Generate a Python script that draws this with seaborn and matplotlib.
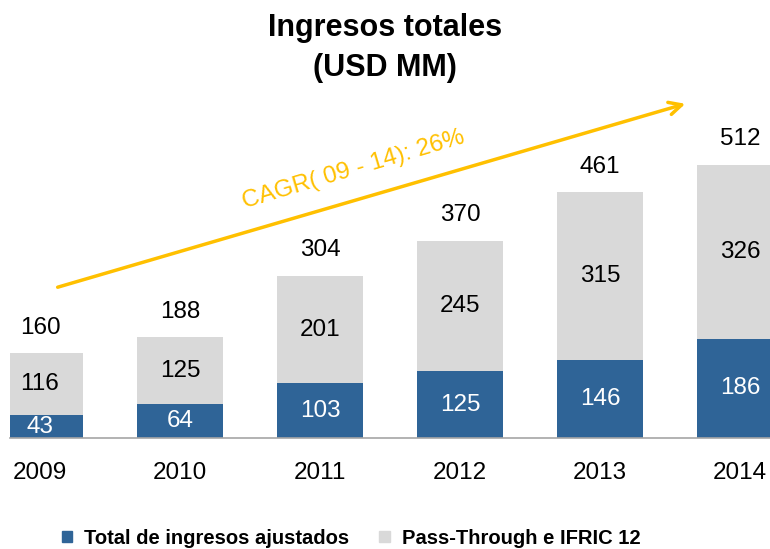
import matplotlib.pyplot as plt
import seaborn as sns
import pandas as pd
from matplotlib.patches import Patch

years = ["2009", "2010", "2011", "2012", "2013", "2014"]
ajustados = [43, 64, 103, 125, 146, 186]
pass_through = [116, 125, 201, 245, 315, 326]
totales = [160, 188, 304, 370, 461, 512]

blue = "#2F6497"
grey = "#D9D9D9"
gold = "#FFC000"

sns.set_style("white")
plt.rcParams['font.family'] = ['Liberation Sans', 'DejaVu Sans']
plt.rcParams['text.color'] = 'black'
plt.rcParams['xtick.color'] = 'black'

df = pd.DataFrame({"year": years, "adj": ajustados, "pt": pass_through, "tot": totales})
df["stack"] = df["adj"] + df["pt"]

fig = plt.figure(figsize=(7.7, 5.49), dpi=100)
ax = fig.add_axes([10 / 770, 111 / 549, 760 / 770, 378 / 549])

# grey on the full height, blue drawn over the bottom part
sns.barplot(data=df, x="year", y="stack", color=grey, saturation=1, width=0.614,
            linewidth=0, ax=ax)
sns.barplot(data=df, x="year", y="adj", color=blue, saturation=1, width=0.614,
            linewidth=0, ax=ax)

for i, row in df.iterrows():
    ax.text(i, row["adj"] / 2, str(row["adj"]), ha="center", va="center",
            color="white", fontsize=17.5)
    ax.text(i, row["adj"] + row["pt"] / 2, str(row["pt"]), ha="center", va="center",
            color="black", fontsize=17.5)
    ax.text(i, row["stack"] + 48, str(row["tot"]), ha="center", va="center",
            color="black", fontsize=17.5)

ax.set_xlim(-0.214, 5.214)
ax.set_ylim(0, 709)
ax.set_xlabel("")
ax.set_ylabel("")
ax.set_yticks([])
ax.tick_params(axis="x", length=0, pad=17, labelsize=17.5, labelcolor="black")
for s in ["top", "right", "left"]:
    ax.spines[s].set_visible(False)
ax.spines["bottom"].set_color("#A6A6A6")
ax.spines["bottom"].set_linewidth(1.2)

fig.text(0.5, 1 - 28 / 549, "Ingresos totales", ha="center", va="center",
         fontsize=22, fontweight="bold", color="black")
fig.text(0.5, 1 - 68 / 549, "(USD MM)", ha="center", va="center",
         fontsize=22, fontweight="bold", color="black")

# CAGR arrow
ax.annotate("", xy=(688 / 770, 1 - 103 / 549), xytext=(55 / 770, 1 - 288 / 549),
            xycoords="figure fraction", textcoords="figure fraction",
            arrowprops=dict(arrowstyle="->,head_length=0.9,head_width=0.45",
                            color=gold, lw=2.5))
fig.text(353 / 770, 1 - 170 / 549, "CAGR( 09 - 14): 26%", ha="center", va="center",
         rotation=16.5, color=gold, fontsize=17.5)

handles = [Patch(color=blue, label="Total de ingresos ajustados"),
           Patch(color=grey, label="Pass-Through e IFRIC 12")]
fig.legend(handles=handles, loc="center left", bbox_to_anchor=(62 / 770, 1 - 538 / 549),
           ncol=2, frameon=False, prop=dict(size=14.5, weight="bold"),
           handlelength=0.5, handleheight=0.5,
           handletextpad=0.6, columnspacing=1.5, borderaxespad=0, borderpad=0,
           labelcolor="black")

fig.savefig("out.png", dpi=100)
